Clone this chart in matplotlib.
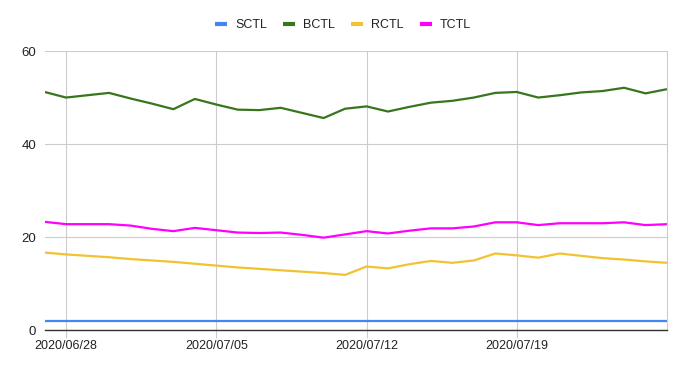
import matplotlib
matplotlib.use("Agg")
import matplotlib.pyplot as plt
import matplotlib.dates as mdates
import numpy as np
import pandas as pd

plt.rcParams['font.family'] = ['Liberation Sans', 'DejaVu Sans']

dates = pd.date_range("2020-06-27", "2020-07-26", freq="D")
tick_dates = pd.to_datetime(["2020-06-28", "2020-07-05", "2020-07-12", "2020-07-19"])
tick_labels = ["2020/06/28", "2020/07/05", "2020/07/12", "2020/07/19"]

sctl = [2.0] * 30
bctl = [51.2, 50.0, 50.5, 51.0, 49.8, 48.7, 47.5, 49.7, 48.5, 47.4,
        47.3, 47.8, 46.7, 45.6, 47.6, 48.1, 47.0, 48.0, 48.9, 49.3,
        50.0, 51.0, 51.2, 50.0, 50.5, 51.1, 51.4, 52.1, 50.9, 51.8]
rctl = [16.7, 16.3, 16.0, 15.7, 15.3, 15.0, 14.7, 14.3, 13.9, 13.5,
        13.2, 12.9, 12.6, 12.3, 11.9, 13.7, 13.3, 14.2, 14.9, 14.5,
        15.0, 16.5, 16.1, 15.6, 16.5, 16.0, 15.5, 15.2, 14.8, 14.5]
tctl = [23.3, 22.8, 22.8, 22.8, 22.5, 21.8, 21.3, 22.0, 21.5, 21.0,
        20.9, 21.0, 20.5, 19.9, 20.6, 21.3, 20.8, 21.4, 21.9, 21.9,
        22.3, 23.2, 23.2, 22.6, 23.0, 23.0, 23.0, 23.2, 22.6, 22.8]

series = [("SCTL", sctl, "#4285F4"), ("BCTL", bctl, "#38761D"),
          ("RCTL", rctl, "#F1C232"), ("TCTL", tctl, "#FF00FF")]

fig = plt.figure(figsize=(6.86, 3.69), dpi=100)
ax = fig.add_axes([44.6 / 686, (369 - 330.3) / 369, (667 - 44.6) / 686, (330.3 - 51) / 369])

for name, vals, col in series:
    ax.plot(dates, vals, color=col, lw=1.6, label=name, solid_capstyle='butt')

ax.set_xlim(dates[0], dates[-1])
ax.set_ylim(0, 60)
ax.set_yticks([0, 20, 40, 60])
ax.set_xticks(tick_dates)
ax.set_xticklabels(tick_labels)

ax.grid(True, color="#cccccc", lw=0.8)
ax.set_axisbelow(True)
for s in ["top", "left"]:
    ax.spines[s].set_visible(False)
ax.spines["right"].set_color("#cccccc")
ax.spines["right"].set_linewidth(0.8)
ax.spines["bottom"].set_color("#333333")
ax.spines["bottom"].set_linewidth(1.0)

ax.tick_params(axis="y", length=0, pad=6, labelsize=9.5, labelcolor="#222222")
ax.tick_params(axis="x", length=6, color="#cccccc", width=0.8, pad=1,
               labelsize=9, labelcolor="#222222")

leg = fig.legend(loc="center", bbox_to_anchor=(343 / 686, 1 - 25 / 369), ncol=4,
                 frameon=False, fontsize=9, handlelength=0.95, handletextpad=0.65,
                 columnspacing=1.3)
for h in leg.get_lines():
    h.set_linewidth(3)
for t in leg.get_texts():
    t.set_color("#222222")

fig.savefig("out.png", dpi=100)
